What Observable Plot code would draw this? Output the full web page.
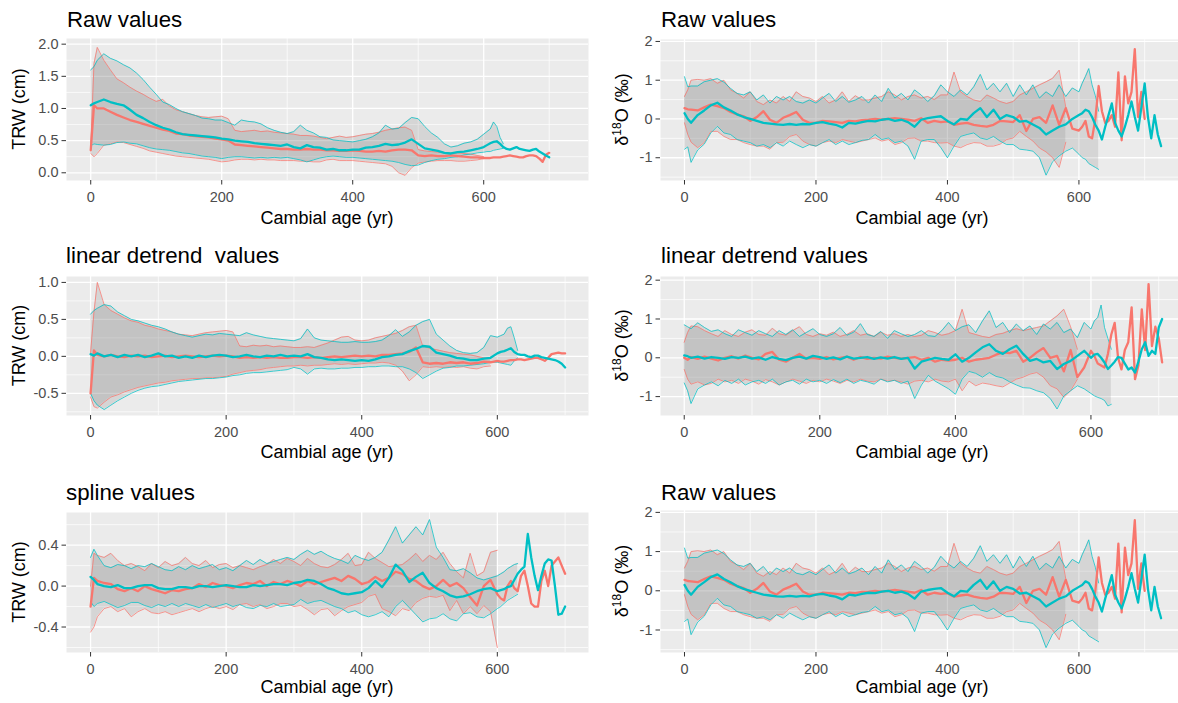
<!DOCTYPE html>
<html>
<head>
<meta charset="utf-8">
<script src="https://cdn.jsdelivr.net/npm/d3@7"></script>
<script src="https://cdn.jsdelivr.net/npm/@observablehq/plot@0.6"></script>
<style>
  html, body { margin:0; padding:0; background:#ffffff; overflow:hidden; }
  #root { position:relative; width:1178px; height:703px; overflow:hidden; background:#fff; }
  #root svg { position:absolute; }
</style>
</head>
<body>
<div id="root"></div>
<script>
// ---- sample ages (cambial age, yr) ----
const AGES = [0,5,
10,20,30,40,50,60,70,80,90,100,
110,120,130,140,150,160,170,180,190,200,
210,220,230,240,250,260,270,280,290,300,
310,320,330,340,350,360,370,380,390,400,
410,420,430,440,450,460,470,480,490,500,
510,520,530,540,550,560,570,580,590,600,
605,610,615,620,625,630,635,640,645,650,
655,660,665,670,675,680,685,690,695,700,
705,710,715,720,725];

// ---- Raw values, TRW (cm) ----
const rawTRW_red_mean = [0.35,1.05,
1.00,1.00,0.95,0.90,0.86,0.82,0.79,0.76,0.73,0.70,
0.67,0.65,0.61,0.60,0.58,0.57,0.56,0.55,0.53,0.52,
0.50,0.44,0.43,0.42,0.41,0.40,0.39,0.38,0.37,0.37,
0.36,0.36,0.37,0.36,0.36,0.35,0.35,0.34,0.34,0.35,
0.34,0.33,0.33,0.34,0.33,0.35,0.36,0.36,0.35,0.27,
0.26,0.27,0.26,0.26,0.27,0.26,0.25,0.24,0.24,0.23,
0.23,0.23,0.24,0.24,0.24,0.25,0.26,0.27,0.26,0.25,
0.24,0.24,0.26,0.27,0.27,0.26,0.22,0.17,0.28,0.31];
const rawTRW_red_hi = [0.40,1.70,
1.95,1.75,1.60,1.46,1.40,1.33,1.27,1.22,1.16,1.11,
1.14,1.04,0.98,0.95,0.92,0.89,0.87,0.86,0.87,0.88,
0.84,0.66,0.64,0.65,0.66,0.64,0.65,0.63,0.62,0.61,
0.60,0.58,0.58,0.57,0.55,0.53,0.55,0.57,0.55,0.56,
0.58,0.60,0.61,0.63,0.66,0.68,0.70,0.71,0.66,0.36,
0.34,0.33,0.32,0.31,0.30,0.31,0.30,0.29,0.27,0.25];
const rawTRW_red_lo = [0.30,0.25,
0.30,0.43,0.45,0.48,0.47,0.44,0.41,0.38,0.34,0.32,
0.30,0.28,0.26,0.25,0.24,0.23,0.22,0.21,0.19,0.17,
0.18,0.20,0.21,0.21,0.20,0.21,0.20,0.20,0.19,0.19,
0.19,0.18,0.18,0.17,0.17,0.20,0.21,0.19,0.19,0.19,
0.18,0.17,0.16,0.15,0.14,0.10,0.00,-0.04,0.08,0.15,
0.17,0.18,0.19,0.19,0.19,0.18,0.18,0.19,0.20,0.22];
const rawTRW_cyan_mean = [1.05,1.08,
1.10,1.14,1.10,1.07,1.05,0.98,0.90,0.85,0.79,0.74,
0.70,0.67,0.63,0.60,0.59,0.58,0.57,0.56,0.55,0.53,
0.52,0.50,0.49,0.48,0.46,0.45,0.44,0.43,0.42,0.44,
0.40,0.38,0.43,0.40,0.39,0.36,0.37,0.35,0.35,0.36,
0.36,0.39,0.40,0.42,0.45,0.43,0.44,0.47,0.52,0.45,
0.38,0.36,0.34,0.31,0.30,0.32,0.33,0.35,0.37,0.40,
0.43,0.46,0.48,0.49,0.45,0.40,0.37,0.36,0.38,0.40,
0.37,0.36,0.35,0.34,0.36,0.37,0.33,0.30,0.27,0.24];
const rawTRW_cyan_hi = [1.60,1.65,
1.75,1.85,1.78,1.74,1.68,1.63,1.55,1.45,1.33,1.22,
1.10,1.06,1.00,0.95,0.92,0.89,0.85,0.84,0.82,0.82,
0.78,0.74,0.82,0.80,0.79,0.76,0.70,0.66,0.63,0.61,
0.64,0.74,0.66,0.62,0.56,0.55,0.51,0.50,0.49,0.48,
0.50,0.52,0.56,0.62,0.74,0.68,0.69,0.78,0.86,0.84,
0.72,0.62,0.55,0.45,0.40,0.42,0.46,0.48,0.52,0.60,
0.64,0.68,0.79,0.72,0.55,0.45];
const rawTRW_cyan_lo = [0.42,0.45,
0.44,0.43,0.44,0.47,0.48,0.46,0.45,0.42,0.39,0.37,
0.36,0.35,0.33,0.31,0.30,0.28,0.26,0.25,0.24,0.22,
0.24,0.25,0.25,0.24,0.23,0.24,0.23,0.24,0.23,0.24,
0.22,0.20,0.17,0.20,0.23,0.25,0.26,0.25,0.24,0.24,
0.23,0.22,0.21,0.20,0.19,0.18,0.16,0.13,0.11,0.12,
0.16,0.19,0.21,0.22,0.24,0.25,0.28,0.29,0.31,0.32,
0.33,0.33,0.35,0.36,0.37,0.38];

// ---- linear detrend values, TRW (cm) ----
const linTRW_red_mean = [-0.50,0.08,
0.02,0.00,0.02,0.00,-0.01,0.01,0.00,0.01,-0.01,0.00,
0.01,-0.01,0.00,0.01,0.00,-0.01,0.00,0.01,0.00,0.01,
0.00,-0.02,-0.01,-0.02,-0.01,-0.02,-0.01,-0.02,-0.02,-0.01,
-0.01,-0.02,-0.01,-0.02,-0.01,0.00,-0.01,0.00,0.01,0.00,
0.01,0.00,0.02,0.02,0.03,0.04,0.06,0.12,-0.08,-0.10,
-0.09,-0.10,-0.08,-0.09,-0.08,-0.10,-0.09,-0.07,-0.08,-0.06,
-0.07,-0.07,-0.06,-0.05,-0.05,-0.04,-0.04,-0.05,-0.04,-0.03,
-0.02,-0.02,-0.04,-0.06,-0.02,0.03,0.04,0.05,0.04,0.04];
const linTRW_red_hi = [0.05,0.60,
1.00,0.70,0.62,0.57,0.52,0.48,0.46,0.42,0.40,0.37,
0.35,0.33,0.30,0.29,0.28,0.30,0.32,0.33,0.34,0.35,
0.33,0.14,0.13,0.15,0.14,0.15,0.13,0.14,0.13,0.12,
0.12,0.13,0.12,0.15,0.18,0.22,0.26,0.27,0.22,0.21,
0.22,0.25,0.27,0.29,0.31,0.35,0.40,0.42,0.14,0.11,
0.09,0.07,0.05,0.04,0.03,0.02,0.00,-0.02,-0.03];
const linTRW_red_lo = [-0.55,-0.68,
-0.70,-0.62,-0.55,-0.52,-0.48,-0.45,-0.42,-0.40,-0.38,-0.36,
-0.35,-0.33,-0.32,-0.31,-0.30,-0.30,-0.29,-0.29,-0.28,-0.27,
-0.24,-0.22,-0.20,-0.19,-0.18,-0.16,-0.15,-0.14,-0.13,-0.13,
-0.12,-0.13,-0.12,-0.12,-0.11,-0.10,-0.11,-0.10,-0.11,-0.10,
-0.09,-0.09,-0.08,-0.09,-0.12,-0.20,-0.33,-0.25,-0.14,-0.15,
-0.14,-0.15,-0.14,-0.15,-0.14,-0.16,-0.17,-0.14,-0.13];
const linTRW_cyan_mean = [0.03,0.01,
0.04,0.00,0.02,-0.01,0.02,0.00,0.02,-0.01,0.01,0.04,
0.00,0.01,-0.02,0.00,-0.02,0.01,-0.01,0.01,0.02,0.01,
-0.01,0.00,0.02,0.00,-0.01,0.01,0.00,0.02,0.00,0.01,
0.00,0.03,-0.01,-0.02,-0.04,-0.05,-0.04,-0.05,-0.06,-0.05,
-0.06,-0.04,-0.01,0.00,0.02,0.03,0.07,0.10,0.14,0.13,
0.05,0.03,0.01,-0.02,-0.03,-0.05,-0.05,-0.03,-0.02,0.04,
0.06,0.07,0.09,0.11,0.06,0.03,0.02,0.02,0.00,-0.01,
0.01,0.01,-0.01,-0.02,-0.03,-0.04,-0.05,-0.07,-0.10,-0.15];
const linTRW_cyan_hi = [0.57,0.62,
0.65,0.70,0.68,0.60,0.55,0.50,0.48,0.45,0.42,0.40,
0.37,0.33,0.30,0.28,0.26,0.28,0.30,0.29,0.31,0.30,
0.29,0.28,0.32,0.29,0.27,0.25,0.24,0.23,0.22,0.21,
0.24,0.37,0.25,0.22,0.21,0.20,0.19,0.19,0.20,0.19,
0.19,0.20,0.22,0.28,0.36,0.27,0.33,0.42,0.47,0.50,
0.30,0.22,0.14,0.08,0.05,0.04,0.05,0.12,0.28,0.26,
0.28,0.30,0.38,0.40,0.25,0.08];
const linTRW_cyan_lo = [-0.50,-0.60,
-0.66,-0.72,-0.66,-0.60,-0.55,-0.50,-0.46,-0.43,-0.41,-0.40,
-0.38,-0.36,-0.34,-0.33,-0.32,-0.31,-0.30,-0.30,-0.29,-0.28,
-0.26,-0.25,-0.23,-0.22,-0.22,-0.21,-0.20,-0.19,-0.18,-0.15,
-0.17,-0.24,-0.17,-0.16,-0.17,-0.17,-0.16,-0.16,-0.15,-0.15,
-0.14,-0.14,-0.13,-0.13,-0.14,-0.14,-0.17,-0.22,-0.30,-0.25,
-0.20,-0.16,-0.15,-0.13,-0.13,-0.12,-0.11,-0.10,-0.08,-0.08,
-0.09,-0.10,-0.11,-0.12,-0.06,-0.02];

// ---- spline values, TRW (cm) ----
const splTRW_red_mean = [-0.20,0.08,
0.05,0.03,0.02,-0.03,-0.05,-0.02,-0.05,0.00,-0.03,-0.05,
-0.07,-0.04,-0.05,-0.03,-0.02,0.02,-0.01,0.03,0.01,0.00,
-0.02,0.01,0.03,0.02,0.05,0.00,0.04,0.02,0.05,0.03,
0.00,0.05,0.02,0.04,0.06,0.08,0.05,0.10,0.07,0.02,
0.04,0.09,0.05,0.08,0.14,0.12,0.07,0.05,0.00,-0.03,
0.00,0.06,0.00,0.03,-0.02,-0.11,-0.19,0.00,0.06,-0.08,
-0.12,-0.14,0.00,0.05,-0.02,-0.05,0.10,0.15,0.00,-0.17,
-0.20,-0.20,0.05,0.15,0.00,0.20,0.24,0.28,0.20,0.12];
const splTRW_red_hi = [0.00,0.32,
0.30,0.28,0.32,0.25,0.20,0.22,0.19,0.15,0.22,0.18,
0.24,0.20,0.22,0.28,0.22,0.20,0.25,0.18,0.21,0.22,
0.18,0.20,0.18,0.16,0.19,0.21,0.26,0.22,0.27,0.24,
0.20,0.27,0.22,0.19,0.18,0.21,0.26,0.32,0.20,0.21,
0.33,0.27,0.23,0.19,0.20,0.21,0.26,0.32,0.24,0.30,
0.26,0.33,0.22,0.14,0.08,0.32,0.10,0.14,0.33,0.35];
const splTRW_red_lo = [-0.45,-0.40,
-0.30,-0.22,-0.20,-0.25,-0.22,-0.30,-0.25,-0.22,-0.26,-0.27,
-0.25,-0.28,-0.26,-0.24,-0.22,-0.25,-0.22,-0.20,-0.22,-0.20,
-0.23,-0.18,-0.17,-0.20,-0.18,-0.22,-0.20,-0.17,-0.17,-0.20,
-0.19,-0.23,-0.28,-0.23,-0.22,-0.29,-0.24,-0.20,-0.18,-0.16,
-0.10,-0.08,-0.22,-0.25,-0.29,-0.22,-0.24,-0.16,-0.12,-0.10,
-0.11,-0.09,-0.24,-0.14,-0.27,-0.20,-0.27,-0.19,-0.25,-0.60];
const splTRW_cyan_mean = [0.09,0.06,
0.02,0.00,-0.01,0.01,-0.02,-0.02,0.00,0.01,0.01,-0.02,
-0.03,-0.03,-0.01,-0.01,-0.02,0.00,0.00,-0.01,0.00,0.01,
0.00,-0.01,-0.01,0.01,0.00,0.01,0.02,0.02,0.01,0.03,
0.04,0.06,0.05,0.02,-0.02,-0.04,-0.07,-0.08,-0.07,-0.06,
-0.02,0.05,-0.01,0.08,0.21,0.15,0.04,0.09,0.13,0.03,
-0.02,-0.05,-0.09,-0.11,-0.10,-0.08,-0.05,-0.03,-0.02,-0.05,
-0.04,-0.03,-0.01,0.00,0.06,0.12,0.16,0.19,0.51,0.28,
0.10,-0.04,0.10,0.22,0.26,0.25,0.00,-0.28,-0.27,-0.20];
const splTRW_cyan_hi = [0.28,0.36,
0.30,0.20,0.18,0.21,0.20,0.17,0.20,0.19,0.22,0.19,
0.16,0.15,0.19,0.16,0.20,0.17,0.19,0.21,0.16,0.18,
0.15,0.20,0.25,0.21,0.26,0.22,0.24,0.26,0.28,0.26,
0.31,0.35,0.31,0.34,0.30,0.27,0.25,0.22,0.30,0.27,
0.25,0.28,0.33,0.45,0.58,0.42,0.50,0.58,0.50,0.65,
0.38,0.28,0.16,0.15,0.17,0.13,0.08,0.06,0.08,0.10,
0.12,0.14,0.17,0.19,0.21,0.22];
const splTRW_cyan_lo = [-0.15,-0.20,
-0.17,-0.15,-0.18,-0.21,-0.19,-0.16,-0.16,-0.19,-0.21,-0.18,
-0.20,-0.17,-0.20,-0.17,-0.19,-0.21,-0.18,-0.21,-0.19,-0.17,
-0.20,-0.18,-0.21,-0.22,-0.19,-0.20,-0.17,-0.20,-0.19,-0.18,
-0.13,-0.17,-0.15,-0.14,-0.17,-0.20,-0.22,-0.26,-0.24,-0.28,
-0.30,-0.28,-0.25,-0.30,-0.20,-0.14,-0.21,-0.28,-0.35,-0.32,
-0.31,-0.27,-0.32,-0.34,-0.27,-0.26,-0.30,-0.31,-0.27,-0.22,
-0.20,-0.17,-0.14,-0.12,-0.10,-0.08];

// ---- Raw values, delta18O (permil) ----
const rawO18_red_mean = [0.28,0.25,
0.24,0.22,0.30,0.37,0.33,0.28,0.18,0.12,0.07,-0.05,
0.05,0.20,-0.02,-0.10,0.03,0.10,0.18,-0.02,-0.10,-0.10,
-0.05,-0.06,-0.08,-0.10,-0.05,-0.06,-0.03,-0.02,0.00,-0.02,
0.00,0.02,0.00,-0.02,-0.05,0.02,-0.10,-0.05,-0.08,-0.06,
-0.15,-0.12,-0.10,-0.15,-0.18,-0.20,-0.15,-0.05,-0.06,-0.08,
0.10,-0.31,0.00,0.05,-0.10,0.35,-0.15,0.28,-0.25,-0.30,
-0.20,-0.05,-0.45,-0.50,0.00,0.85,0.20,-0.10,-0.05,0.10,
-0.20,1.20,-0.55,1.10,0.40,0.70,1.80,0.05,0.70,0.00];
const rawO18_red_hi = [0.58,0.75,
1.00,1.02,1.00,1.04,0.92,1.00,0.75,0.66,0.54,0.70,
0.45,0.37,0.49,0.41,0.58,0.45,0.70,0.58,0.54,0.45,
0.58,0.41,0.49,0.70,0.45,0.60,0.49,0.49,0.54,0.58,
0.70,0.62,0.49,0.58,0.62,0.54,0.58,0.50,0.62,0.62,
1.21,0.70,0.58,0.49,0.45,0.62,0.54,0.45,0.40,0.45,
0.62,0.70,0.79,0.88,0.96,1.05,1.26,0.30];
const rawO18_red_lo = [-0.10,-0.40,
-0.60,-0.74,-0.61,-0.32,-0.32,-0.45,-0.53,-0.53,-0.61,-0.66,
-0.70,-0.70,-0.78,-0.61,-0.60,-0.45,-0.40,-0.57,-0.66,-0.70,
-0.61,-0.57,-0.61,-0.53,-0.57,-0.61,-0.57,-0.53,-0.49,-0.57,
-0.53,-0.66,-0.61,-0.50,-0.49,-0.57,-0.57,-0.61,-0.62,-0.61,
-0.70,-0.74,-0.66,-0.61,-0.62,-0.70,-0.70,-0.65,-0.53,-0.49,
-0.32,-0.45,-0.57,-0.75,-0.85,-1.00,-1.25,-0.60];
const rawO18_cyan_mean = [0.15,0.00,
-0.10,0.10,0.22,0.35,0.42,0.30,0.22,0.12,0.05,0.00,
-0.05,-0.10,-0.12,-0.14,-0.15,-0.13,-0.15,-0.13,-0.14,-0.10,
-0.08,-0.12,-0.15,-0.22,-0.10,-0.12,-0.08,-0.05,-0.06,-0.02,
0.00,-0.05,-0.02,-0.08,-0.20,-0.02,0.02,0.05,0.07,-0.05,
-0.14,0.00,-0.02,0.15,0.28,0.05,0.24,0.00,0.10,0.05,
-0.07,-0.05,-0.14,-0.23,-0.40,-0.30,-0.20,-0.14,0.00,0.10,
0.15,0.24,0.20,0.05,-0.15,-0.30,-0.53,-0.20,0.10,0.40,
-0.10,-0.30,-0.45,-0.20,0.10,0.45,0.05,-0.30,0.30,0.92,
0.05,-0.50,0.10,-0.40,-0.70];
const rawO18_cyan_hi = [1.09,0.83,
0.85,0.85,0.96,1.00,1.04,0.95,0.79,0.66,0.62,0.70,
0.49,0.62,0.41,0.58,0.49,0.58,0.45,0.41,0.49,0.41,
0.54,0.66,0.45,0.58,0.43,0.49,0.58,0.41,0.62,0.45,
0.79,0.54,0.66,0.49,0.75,0.62,0.45,0.60,0.88,0.70,
0.58,0.75,0.62,0.83,1.15,0.75,0.92,0.70,0.92,0.58,
0.88,0.62,0.88,0.54,0.70,0.58,0.88,0.58,0.80,0.70,
0.92,1.10,1.30,0.88,0.60,0.20];
const rawO18_cyan_lo = [-0.78,-0.72,
-1.12,-0.80,-0.65,-0.36,-0.19,-0.36,-0.40,-0.53,-0.57,-0.61,
-0.70,-0.66,-0.74,-0.61,-0.70,-0.57,-0.66,-0.74,-0.66,-0.70,
-0.61,-0.53,-0.66,-0.57,-0.66,-0.61,-0.55,-0.53,-0.40,-0.53,
-0.49,-0.61,-0.57,-0.70,-1.04,-0.57,-0.53,-0.53,-0.74,-1.00,
-0.70,-0.45,-0.40,-0.36,-0.49,-0.53,-0.45,-0.57,-0.66,-0.66,
-0.78,-0.80,-0.83,-1.00,-1.45,-1.10,-0.95,-0.83,-0.75,-0.91,
-1.00,-1.04,-1.15,-1.20,-1.25,-1.30];

// ---- linear detrend values, delta18O (permil) ----
const linO18_red_mean = [0.00,-0.05,
0.02,-0.03,0.03,-0.02,-0.07,0.00,0.04,-0.02,0.06,0.00,
-0.04,0.10,0.15,-0.05,-0.10,0.00,0.10,-0.02,0.00,-0.03,
0.02,-0.04,0.00,0.03,-0.05,0.02,-0.03,0.00,-0.02,0.03,
0.00,-0.02,0.00,0.02,-0.05,0.00,-0.10,-0.05,-0.07,-0.05,
0.00,-0.10,-0.05,-0.03,0.00,0.08,0.14,0.12,0.18,-0.10,
0.00,0.14,0.25,0.00,0.05,-0.35,0.20,-0.50,-0.25,0.18,
0.05,-0.15,-0.20,-0.25,0.10,0.60,0.90,0.00,-0.30,0.20,
0.40,1.30,-0.55,-0.20,1.25,0.20,1.90,0.30,0.80,0.50,
-0.12];
const linO18_red_hi = [0.40,0.65,
0.82,0.80,0.70,0.62,0.55,0.70,0.60,0.55,0.66,0.72,
0.60,0.58,0.76,0.62,0.58,0.70,0.80,0.60,0.55,0.62,
0.58,0.66,0.55,0.60,0.70,0.58,0.62,0.55,0.66,0.58,
0.62,0.55,0.60,0.55,0.58,0.70,0.65,0.58,0.62,0.70,
1.25,0.65,0.60,0.55,0.52,0.60,0.63,0.70,0.75,0.70,
0.74,0.78,0.82,0.95,1.08,1.25,0.80,0.22];
const linO18_red_lo = [-0.30,-0.55,
-0.68,-0.62,-0.70,-0.66,-0.55,-0.62,-0.58,-0.66,-0.55,-0.60,
-0.68,-0.56,-0.62,-0.70,-0.62,-0.55,-0.60,-0.66,-0.58,-0.62,
-0.55,-0.60,-0.66,-0.58,-0.62,-0.55,-0.60,-0.62,-0.55,-0.60,
-0.58,-0.62,-0.68,-0.60,-0.58,-0.62,-0.55,-0.60,-0.62,-0.55,
-0.85,-0.60,-0.72,-0.65,-0.68,-0.72,-0.75,-0.65,-0.55,-0.50,
-0.42,-0.38,-0.50,-0.72,-0.80,-1.02,-0.85,-0.55];
const linO18_cyan_mean = [0.06,0.04,
0.00,0.03,-0.02,0.02,0.00,-0.03,0.02,0.00,0.03,-0.02,
0.01,-0.05,0.02,-0.03,-0.06,0.00,0.03,-0.02,0.05,0.02,
-0.03,0.01,-0.04,0.03,-0.02,0.00,0.02,-0.03,0.01,-0.02,
0.02,-0.03,0.00,-0.28,-0.10,-0.05,0.00,-0.03,-0.05,0.09,
-0.10,0.00,0.14,0.27,0.35,0.18,0.10,0.22,0.31,0.10,
-0.08,-0.03,-0.12,-0.08,-0.29,-0.16,-0.08,0.05,0.18,0.00,
0.08,0.10,0.00,-0.12,-0.29,-0.20,-0.10,0.02,0.00,-0.15,
-0.30,-0.25,-0.38,-0.10,0.22,0.40,0.05,0.18,0.10,0.78,
1.00];
const linO18_cyan_hi = [0.85,0.80,
0.75,0.90,0.78,0.68,0.72,0.62,0.55,0.72,0.65,0.58,
0.70,0.62,0.55,0.70,0.60,0.72,0.55,0.65,0.75,0.60,
0.55,0.62,0.78,0.58,0.66,0.88,0.60,0.55,0.68,0.50,
0.70,0.62,0.55,0.60,0.70,0.57,0.55,0.70,0.91,0.70,
0.80,0.85,0.65,0.95,1.21,0.78,0.91,0.65,0.87,0.70,
0.82,0.60,0.87,0.74,0.91,0.65,0.74,0.52,0.91,0.74,
0.95,1.04,1.36,0.78,0.50,0.22];
const linO18_cyan_lo = [-0.65,-0.85,
-1.18,-0.80,-0.70,-0.62,-0.72,-0.58,-0.66,-0.55,-0.70,-0.62,
-0.58,-0.66,-0.55,-0.70,-0.62,-0.58,-0.68,-0.55,-0.62,-0.58,
-0.66,-0.56,-0.64,-0.55,-0.66,-0.58,-0.62,-0.68,-0.55,-0.62,
-0.58,-0.66,-0.60,-1.05,-0.70,-0.45,-0.60,-0.70,-0.80,-0.94,
-0.55,-0.35,-0.40,-0.50,-0.38,-0.48,-0.52,-0.62,-0.70,-0.77,
-0.78,-0.85,-0.90,-1.05,-1.32,-0.98,-0.85,-0.72,-0.80,-0.92,
-0.98,-1.02,-1.05,-1.10,-1.24,-1.20];

// ---- axis ticks ----
const X_MAJOR = [0, 200, 400, 600];
const X_MINOR = [100, 300, 500, 700];
const Y_TRW_RAW = [0, 0.5, 1.0, 1.5, 2.0];
const Y_TRW_RAW_MINOR = [0.25, 0.75, 1.25, 1.75];
const Y_TRW_LIN = [-0.5, 0, 0.5, 1.0];
const Y_TRW_LIN_MINOR = [-0.75, -0.25, 0.25, 0.75];
const Y_TRW_SPL = [-0.4, 0, 0.4];
const Y_TRW_SPL_MINOR = [-0.6, -0.2, 0.2, 0.6];
const Y_O18 = [-1, 0, 1, 2];
const Y_O18_MINOR = [-1.5, -0.5, 0.5, 1.5];

const RED = "#F8766D", CYAN = "#00BFC4";
const FONT = '"Liberation Sans", Arial, Helvetica, sans-serif';
const root = document.getElementById("root");

function rows(mean, lo, hi) {
  const out = [];
  const n = Math.max(mean.length, lo.length, hi.length);
  for (let i = 0; i < n && i < AGES.length; i++) {
    const v = (a) => (i < a.length && a[i] != null ? a[i] : null);
    out.push({age: AGES[i], mean: v(mean), lo: v(lo), hi: v(hi)});
  }
  return out;
}

function drawPanel(cfg) {
  const ML = 60, MR = 0, MT = 0, MB = 32;
  const red = rows(cfg.red[0], cfg.red[1], cfg.red[2]);
  const cyan = rows(cfg.cyan[0], cfg.cyan[1], cfg.cyan[2]);
  const fmt = cfg.fmt;
  const plot = Plot.plot({
    width: cfg.x1 - cfg.x0 + ML + MR,
    height: cfg.y1 - cfg.y0 + MT + MB,
    marginLeft: ML, marginRight: MR, marginTop: MT, marginBottom: MB,
    x: {domain: cfg.xDomain},
    y: {domain: cfg.yDomain},
    style: {fontFamily: FONT, fontSize: "14.5px", color: "#4D4D4D", background: "none", overflow: "visible"},
    marks: [
      Plot.frame({fill: "#EBEBEB", stroke: "none"}),
      Plot.gridY(cfg.yMinor, {stroke: "#ffffff", strokeOpacity: 1, strokeWidth: 0.7}),
      Plot.gridX(X_MINOR, {stroke: "#ffffff", strokeOpacity: 1, strokeWidth: 0.7}),
      Plot.gridY(cfg.yMajor, {stroke: "#ffffff", strokeOpacity: 1, strokeWidth: 1.3}),
      Plot.gridX(X_MAJOR, {stroke: "#ffffff", strokeOpacity: 1, strokeWidth: 1.3}),
      Plot.areaY(red, {x: "age", y1: "lo", y2: "hi", fill: "#7F7F7F", fillOpacity: 0.2}),
      Plot.areaY(cyan, {x: "age", y1: "lo", y2: "hi", fill: "#7F7F7F", fillOpacity: 0.2}),
      Plot.line(red, {x: "age", y: "hi", stroke: RED, strokeWidth: 1, strokeOpacity: 0.75}),
      Plot.line(red, {x: "age", y: "lo", stroke: RED, strokeWidth: 1, strokeOpacity: 0.75}),
      Plot.line(cyan, {x: "age", y: "hi", stroke: CYAN, strokeWidth: 1, strokeOpacity: 0.75}),
      Plot.line(cyan, {x: "age", y: "lo", stroke: CYAN, strokeWidth: 1, strokeOpacity: 0.75}),
      Plot.line(red, {x: "age", y: "mean", stroke: RED, strokeWidth: 2.3}),
      Plot.line(cyan, {x: "age", y: "mean", stroke: CYAN, strokeWidth: 2.3}),
      Plot.axisX(X_MAJOR, {tickSize: 4.5, tickPadding: 7, label: null, fontSize: 14.5, fontFamily: FONT, stroke: "#333333", fill: "#4D4D4D"}),
      Plot.axisY(cfg.yMajor, {tickSize: 4.5, tickPadding: 3.5, label: null, fontSize: 14.5, fontFamily: FONT, stroke: "#333333", fill: "#4D4D4D", tickFormat: fmt})
    ]
  });
  plot.style.left = (cfg.x0 - ML) + "px";
  plot.style.top = (cfg.y0 - MT) + "px";
  root.appendChild(plot);
}

const f1 = (d) => d.toFixed(1);
const f0 = (d) => String(d);

drawPanel({x0: 66, x1: 588, y0: 38, y1: 180, xDomain: [-37, 760], yDomain: [-0.12, 2.088],
  yMajor: Y_TRW_RAW, yMinor: Y_TRW_RAW_MINOR, fmt: f1,
  red: [rawTRW_red_mean, rawTRW_red_lo, rawTRW_red_hi], cyan: [rawTRW_cyan_mean, rawTRW_cyan_lo, rawTRW_cyan_hi]});
drawPanel({x0: 660, x1: 1184, y0: 39, y1: 180, xDomain: [-36.5, 760.6], yDomain: [-1.587, 2.05],
  yMajor: Y_O18, yMinor: Y_O18_MINOR, fmt: f0,
  red: [rawO18_red_mean, rawO18_red_lo, rawO18_red_hi], cyan: [rawO18_cyan_mean, rawO18_cyan_lo, rawO18_cyan_hi]});
drawPanel({x0: 66, x1: 588, y0: 276, y1: 415, xDomain: [-35.5, 734.5], yDomain: [-0.80, 1.08],
  yMajor: Y_TRW_LIN, yMinor: Y_TRW_LIN_MINOR, fmt: f1,
  red: [linTRW_red_mean, linTRW_red_lo, linTRW_red_hi], cyan: [linTRW_cyan_mean, linTRW_cyan_lo, linTRW_cyan_hi]});
drawPanel({x0: 660, x1: 1184, y0: 276, y1: 415, xDomain: [-35, 738], yDomain: [-1.487, 2.095],
  yMajor: Y_O18, yMinor: Y_O18_MINOR.filter(d => d > -1.487), fmt: f0,
  red: [linO18_red_mean, linO18_red_lo, linO18_red_hi], cyan: [linO18_cyan_mean, linO18_cyan_lo, linO18_cyan_hi]});
drawPanel({x0: 66, x1: 588, y0: 512, y1: 652, xDomain: [-35.5, 734.5], yDomain: [-0.649, 0.719],
  yMajor: Y_TRW_SPL, yMinor: Y_TRW_SPL_MINOR, fmt: f1,
  red: [splTRW_red_mean, splTRW_red_lo, splTRW_red_hi], cyan: [splTRW_cyan_mean, splTRW_cyan_lo, splTRW_cyan_hi]});
drawPanel({x0: 660, x1: 1184, y0: 510, y1: 652, xDomain: [-36.5, 760.6], yDomain: [-1.574, 2.048],
  yMajor: Y_O18, yMinor: Y_O18_MINOR, fmt: f0,
  red: [rawO18_red_mean, rawO18_red_lo, rawO18_red_hi], cyan: [rawO18_cyan_mean, rawO18_cyan_lo, rawO18_cyan_hi]});

// ---- text overlay (titles and axis titles) ----
const overlay = d3.select(root).append("svg")
  .attr("width", 1178).attr("height", 703)
  .style("left", "0px").style("top", "0px")
  .style("pointer-events", "none")
  .style("font-family", FONT);

const titles = [
  {t: "Raw values", x: 67, y: 27},
  {t: "Raw values", x: 661, y: 27},
  {t: "linear detrend  values", x: 66, y: 263},
  {t: "linear detrend values", x: 661, y: 263},
  {t: "spline values", x: 66, y: 500},
  {t: "Raw values", x: 661, y: 500}
];
titles.forEach(d => {
  overlay.append("text").attr("x", d.x).attr("y", d.y)
    .style("font-size", "22.3px").style("white-space", "pre").attr("fill", "#000").text(d.t);
});

const xTitles = [[327, 224], [922, 224], [327, 458], [922, 458], [327, 693], [922, 693]];
xTitles.forEach(([x, y]) => {
  overlay.append("text").attr("x", x).attr("y", y).attr("text-anchor", "middle")
    .style("font-size", "18px").attr("fill", "#000").text("Cambial age (yr)");
});

[109, 345.5, 582].forEach(cy => {
  overlay.append("text").attr("transform", `translate(25,${cy}) rotate(-90)`)
    .attr("text-anchor", "middle").style("font-size", "18px").attr("fill", "#000").text("TRW (cm)");
});
[109.5, 345.5, 581].forEach(cy => {
  const t = overlay.append("text").attr("transform", `translate(628,${cy}) rotate(-90)`)
    .attr("text-anchor", "middle").style("font-size", "18px").attr("fill", "#000");
  t.append("tspan").text("δ");
  t.append("tspan").attr("dy", -7).style("font-size", "12px").text("18");
  t.append("tspan").attr("dy", 7).text("O (‰)");
});
</script>
</body>
</html>
